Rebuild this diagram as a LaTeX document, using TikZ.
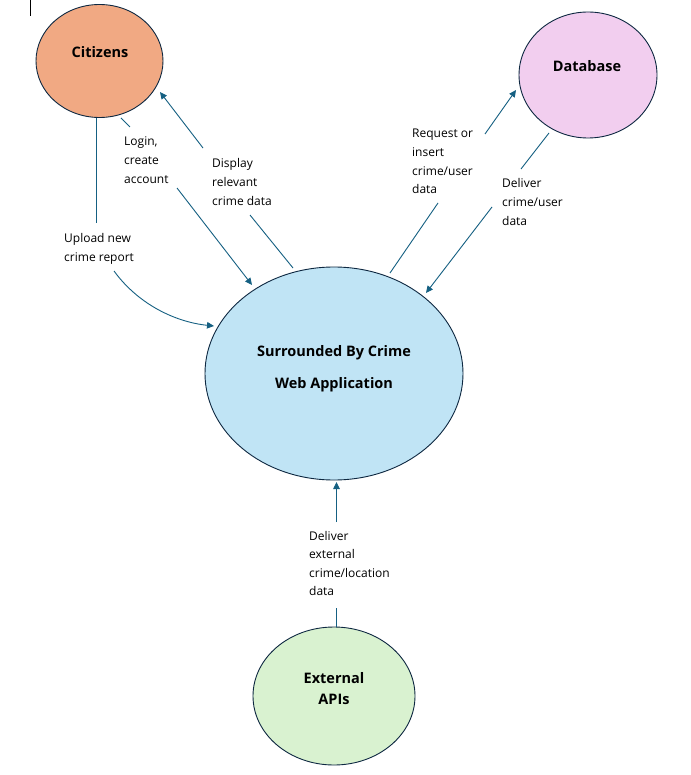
\documentclass[tikz,border=0pt]{standalone}
\usepackage{fontspec}
\setmainfont{Open Sans}
\usetikzlibrary{shapes.geometric,arrows.meta}
\definecolor{flow}{HTML}{156082}
\definecolor{edge}{HTML}{0E2841}
\definecolor{citfill}{HTML}{F1A983}
\definecolor{dbfill}{HTML}{F2CEEF}
\definecolor{appfill}{HTML}{C0E4F5}
\definecolor{apifill}{HTML}{D9F2D0}
\tikzset{
  bubble/.style={ellipse, draw=edge, line width=0.9pt, inner sep=0pt},
  title/.style={font=\fontsize{14.5}{21}\selectfont\bfseries, align=center, inner sep=0pt},
  flowlabel/.style={font=\fontsize{12}{18.6}\selectfont, align=left, anchor=base west, inner sep=0pt},
  flowline/.style={draw=flow, line width=0.9pt},
  flowarrow/.style={flowline, -{Triangle[length=7pt,width=6.5pt]}},
}
\begin{document}
\begin{tikzpicture}[x=1pt,y=-1pt]
\useasboundingbox[fill=white] (0,0) rectangle (690,775);
% cursor mark
\coordinate (m1) at (30,0);
\coordinate (m2) at (30,16);
\draw[line width=0.8pt] (m1) -- (m2);

% bubbles
\node[bubble, fill=citfill, minimum width=127pt, minimum height=113pt] (cit) at (99.5,61) {};
\node[bubble, fill=dbfill, minimum width=138pt, minimum height=126pt] (db) at (588,75) {};
\node[bubble, fill=appfill, minimum width=258pt, minimum height=213pt] (app) at (334,373.5) {};
\node[bubble, fill=apifill, minimum width=162pt, minimum height=138pt] (api) at (334,696) {};

% titles
\node[title, anchor=base] (citT) at (100,58) {Citizens};
\node[title, anchor=base] (dbT) at (587,72) {Database};
\node[title, anchor=base] (appT1) at (334,356) {Surrounded By Crime};
\node[title, anchor=base] (appT2) at (334,388) {Web Application};
\node[title, anchor=base] (apiT1) at (334,683) {External};
\node[title, anchor=base] (apiT2) at (334,704) {APIs};

% labels (anchor = baseline of the last line)
\node[flowlabel] (lUp) at (64,261.6) {Upload new\\crime report};
\node[flowlabel] (lLog) at (124,183.2) {Login,\\create\\account};
\node[flowlabel] (lDisp) at (212,205.2) {Display\\relevant\\crime data};
\node[flowlabel] (lReq) at (412,193.8) {Request or\\insert\\crime/user\\data};
\node[flowlabel] (lDel) at (502,225.2) {Deliver\\crime/user\\data};
\node[flowlabel] (lExt) at (309,595.8) {Deliver\\external\\crime/location\\data};

% connector end points
\coordinate (u1) at (96.5,118);  \coordinate (u2) at (96.5,223);
\coordinate (u3) at (114,271);   \coordinate (u4) at (214,326);
\coordinate (g1) at (121,118);   \coordinate (g2) at (130,127);
\coordinate (g3) at (177,188);   \coordinate (g4) at (252,285);
\coordinate (d1) at (293,268);   \coordinate (d2) at (250,215);
\coordinate (d3) at (203,148);   \coordinate (d4) at (160,92);
\coordinate (r1) at (390,273);   \coordinate (r2) at (438,203);
\coordinate (r3) at (485,134);   \coordinate (r4) at (516,90);
\coordinate (v1) at (549,133);   \coordinate (v2) at (521,169);
\coordinate (v3) at (492,207);   \coordinate (v4) at (426,293);
\coordinate (e1) at (336.5,627); \coordinate (e2) at (336.5,608);
\coordinate (e3) at (336.5,522); \coordinate (e4) at (336.5,482);

% connectors
\draw[flowline] (u1) -- (u2);
\draw[flowarrow] (u3) .. controls (138,304) and (175,322) .. (u4);
\draw[flowline] (g1) -- (g2);
\draw[flowarrow] (g3) -- (g4);
\draw[flowline] (d1) -- (d2);
\draw[flowarrow] (d3) -- (d4);
\draw[flowline] (r1) -- (r2);
\draw[flowarrow] (r3) -- (r4);
\draw[flowline] (v1) -- (v2);
\draw[flowarrow] (v3) -- (v4);
\draw[flowline] (e1) -- (e2);
\draw[flowarrow] (e3) -- (e4);
\end{tikzpicture}
\end{document}
